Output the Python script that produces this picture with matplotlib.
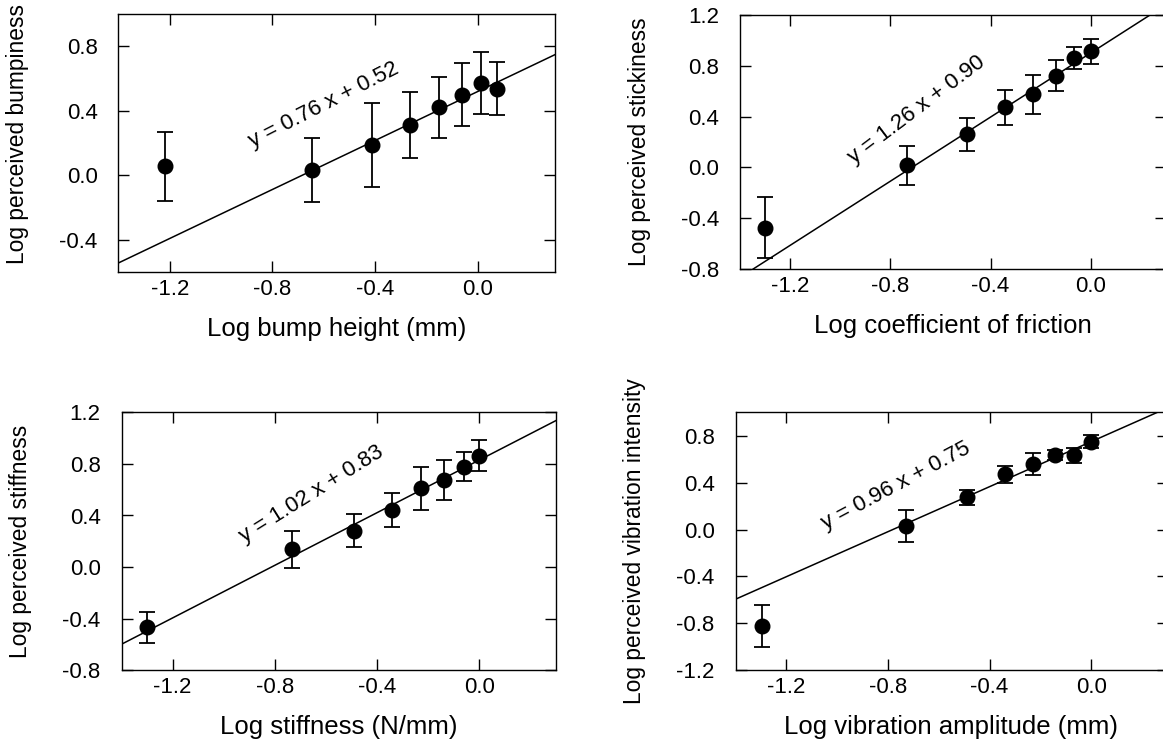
import numpy as np
import matplotlib
matplotlib.use("Agg")
import matplotlib.pyplot as plt

plt.rcParams['font.family'] = ['Liberation Sans', 'DejaVu Sans']
plt.rcParams['axes.unicode_minus'] = False

# panel 1: bumpiness
x1 = [-1.217, -0.646, -0.414, -0.264, -0.150, -0.064, 0.011, 0.074]
y1 = [0.056, 0.033, 0.189, 0.309, 0.421, 0.500, 0.574, 0.537]
e1 = [0.215, 0.200, 0.260, 0.205, 0.190, 0.195, 0.193, 0.166]

# panel 2: stickiness
x2 = [-1.300, -0.733, -0.493, -0.341, -0.230, -0.138, -0.067, 0.000]
y2 = [-0.473, 0.016, 0.259, 0.473, 0.575, 0.722, 0.860, 0.912]
e2 = [0.240, 0.155, 0.133, 0.136, 0.154, 0.120, 0.089, 0.097]

# panel 3: stiffness
x3 = [-1.301, -0.732, -0.491, -0.341, -0.228, -0.138, -0.061, 0.000]
y3 = [-0.468, 0.137, 0.282, 0.444, 0.610, 0.674, 0.778, 0.863]
e3 = [0.118, 0.146, 0.128, 0.133, 0.168, 0.154, 0.114, 0.119]

# panel 4: vibration
x4 = [-1.297, -0.729, -0.490, -0.341, -0.229, -0.141, -0.068, 0.000]
y4 = [-0.824, 0.031, 0.274, 0.473, 0.559, 0.636, 0.633, 0.750]
e4 = [0.181, 0.135, 0.062, 0.072, 0.091, 0.046, 0.063, 0.057]

fits = [(0.76, 0.52), (1.26, 0.90), (1.02, 0.83), (0.96, 0.75)]
fit_labels = ["y = 0.76 x + 0.52", "y = 1.26 x + 0.90",
              "y = 1.02 x + 0.83", "y = 0.96 x + 0.75"]
label_pos = [(-0.598, 0.432), (-0.696, 0.452), (-0.657, 0.566), (-0.767, 0.368)]
label_rot = [27, 37, 32, 28]

xlabels = ["Log bump height (mm)", "Log coefficient of friction",
           "Log stiffness (N/mm)", "Log vibration amplitude (mm)"]
ylabels = ["Log perceived bumpiness", "Log perceived stickiness",
           "Log perceived stiffness", "Log perceived vibration intensity"]
ylims = [(-0.6, 1.0), (-0.8, 1.2), (-0.8, 1.2), (-1.2, 1.0)]
yticks = [[-0.4, 0.0, 0.4, 0.8],
          [-0.8, -0.4, 0.0, 0.4, 0.8, 1.2],
          [-0.8, -0.4, 0.0, 0.4, 0.8, 1.2],
          [-1.2, -0.8, -0.4, 0.0, 0.4, 0.8]]
xticks = [-1.2, -0.8, -0.4, 0.0]

W, H = 1163, 744
# pixel boxes: left, top, right, bottom
boxes = [(118.4, 14, 555, 272), (740, 14.7, 1166, 269.3),
         (121.5, 412.3, 556, 670.3), (735.5, 412.3, 1167.5, 670.3)]
ylab_y = [0.535, 0.5, 0.5, 0.5]

fig = plt.figure(figsize=(W / 100, H / 100), dpi=100)

data = [(x1, y1, e1), (x2, y2, e2), (x3, y3, e3), (x4, y4, e4)]
for i, (xs, ys, es) in enumerate(data):
    l, t, r, b = boxes[i]
    ax = fig.add_axes([l / W, 1 - b / H, (r - l) / W, (b - t) / H])
    ax.set_xlim(-1.4, 0.3)
    ax.set_ylim(*ylims[i])

    xx = np.array([-1.4, 0.3])
    m, c = fits[i]
    ax.plot(xx, m * xx + c, color='black', lw=1.1)
    ax.errorbar(xs, ys, yerr=es, fmt='o', color='black', ms=10.5,
                elinewidth=1.3, capsize=5.5, capthick=1.3)
    ax.text(label_pos[i][0], label_pos[i][1], fit_labels[i], rotation=label_rot[i],
            rotation_mode='anchor', ha='center', va='center', fontsize=16)

    ax.set_xticks(xticks)
    ax.set_xticklabels(["%.1f" % v for v in xticks])
    ax.set_yticks(yticks[i])
    ax.set_yticklabels(["%.1f" % v for v in yticks[i]])
    ax.tick_params(direction='in', length=8, width=1, top=True, right=True,
                   labelsize=16)
    ax.tick_params(axis='x', pad=5)
    ax.tick_params(axis='y', pad=15)
    for s in ax.spines.values():
        s.set_linewidth(1)
    ax.set_xlabel(xlabels[i], fontsize=18.5, labelpad=12)
    ax.set_ylabel(ylabels[i], fontsize=16.4)
    ax.yaxis.set_label_coords(-89 / (r - l), ylab_y[i])

fig.savefig("out.png", dpi=100)
